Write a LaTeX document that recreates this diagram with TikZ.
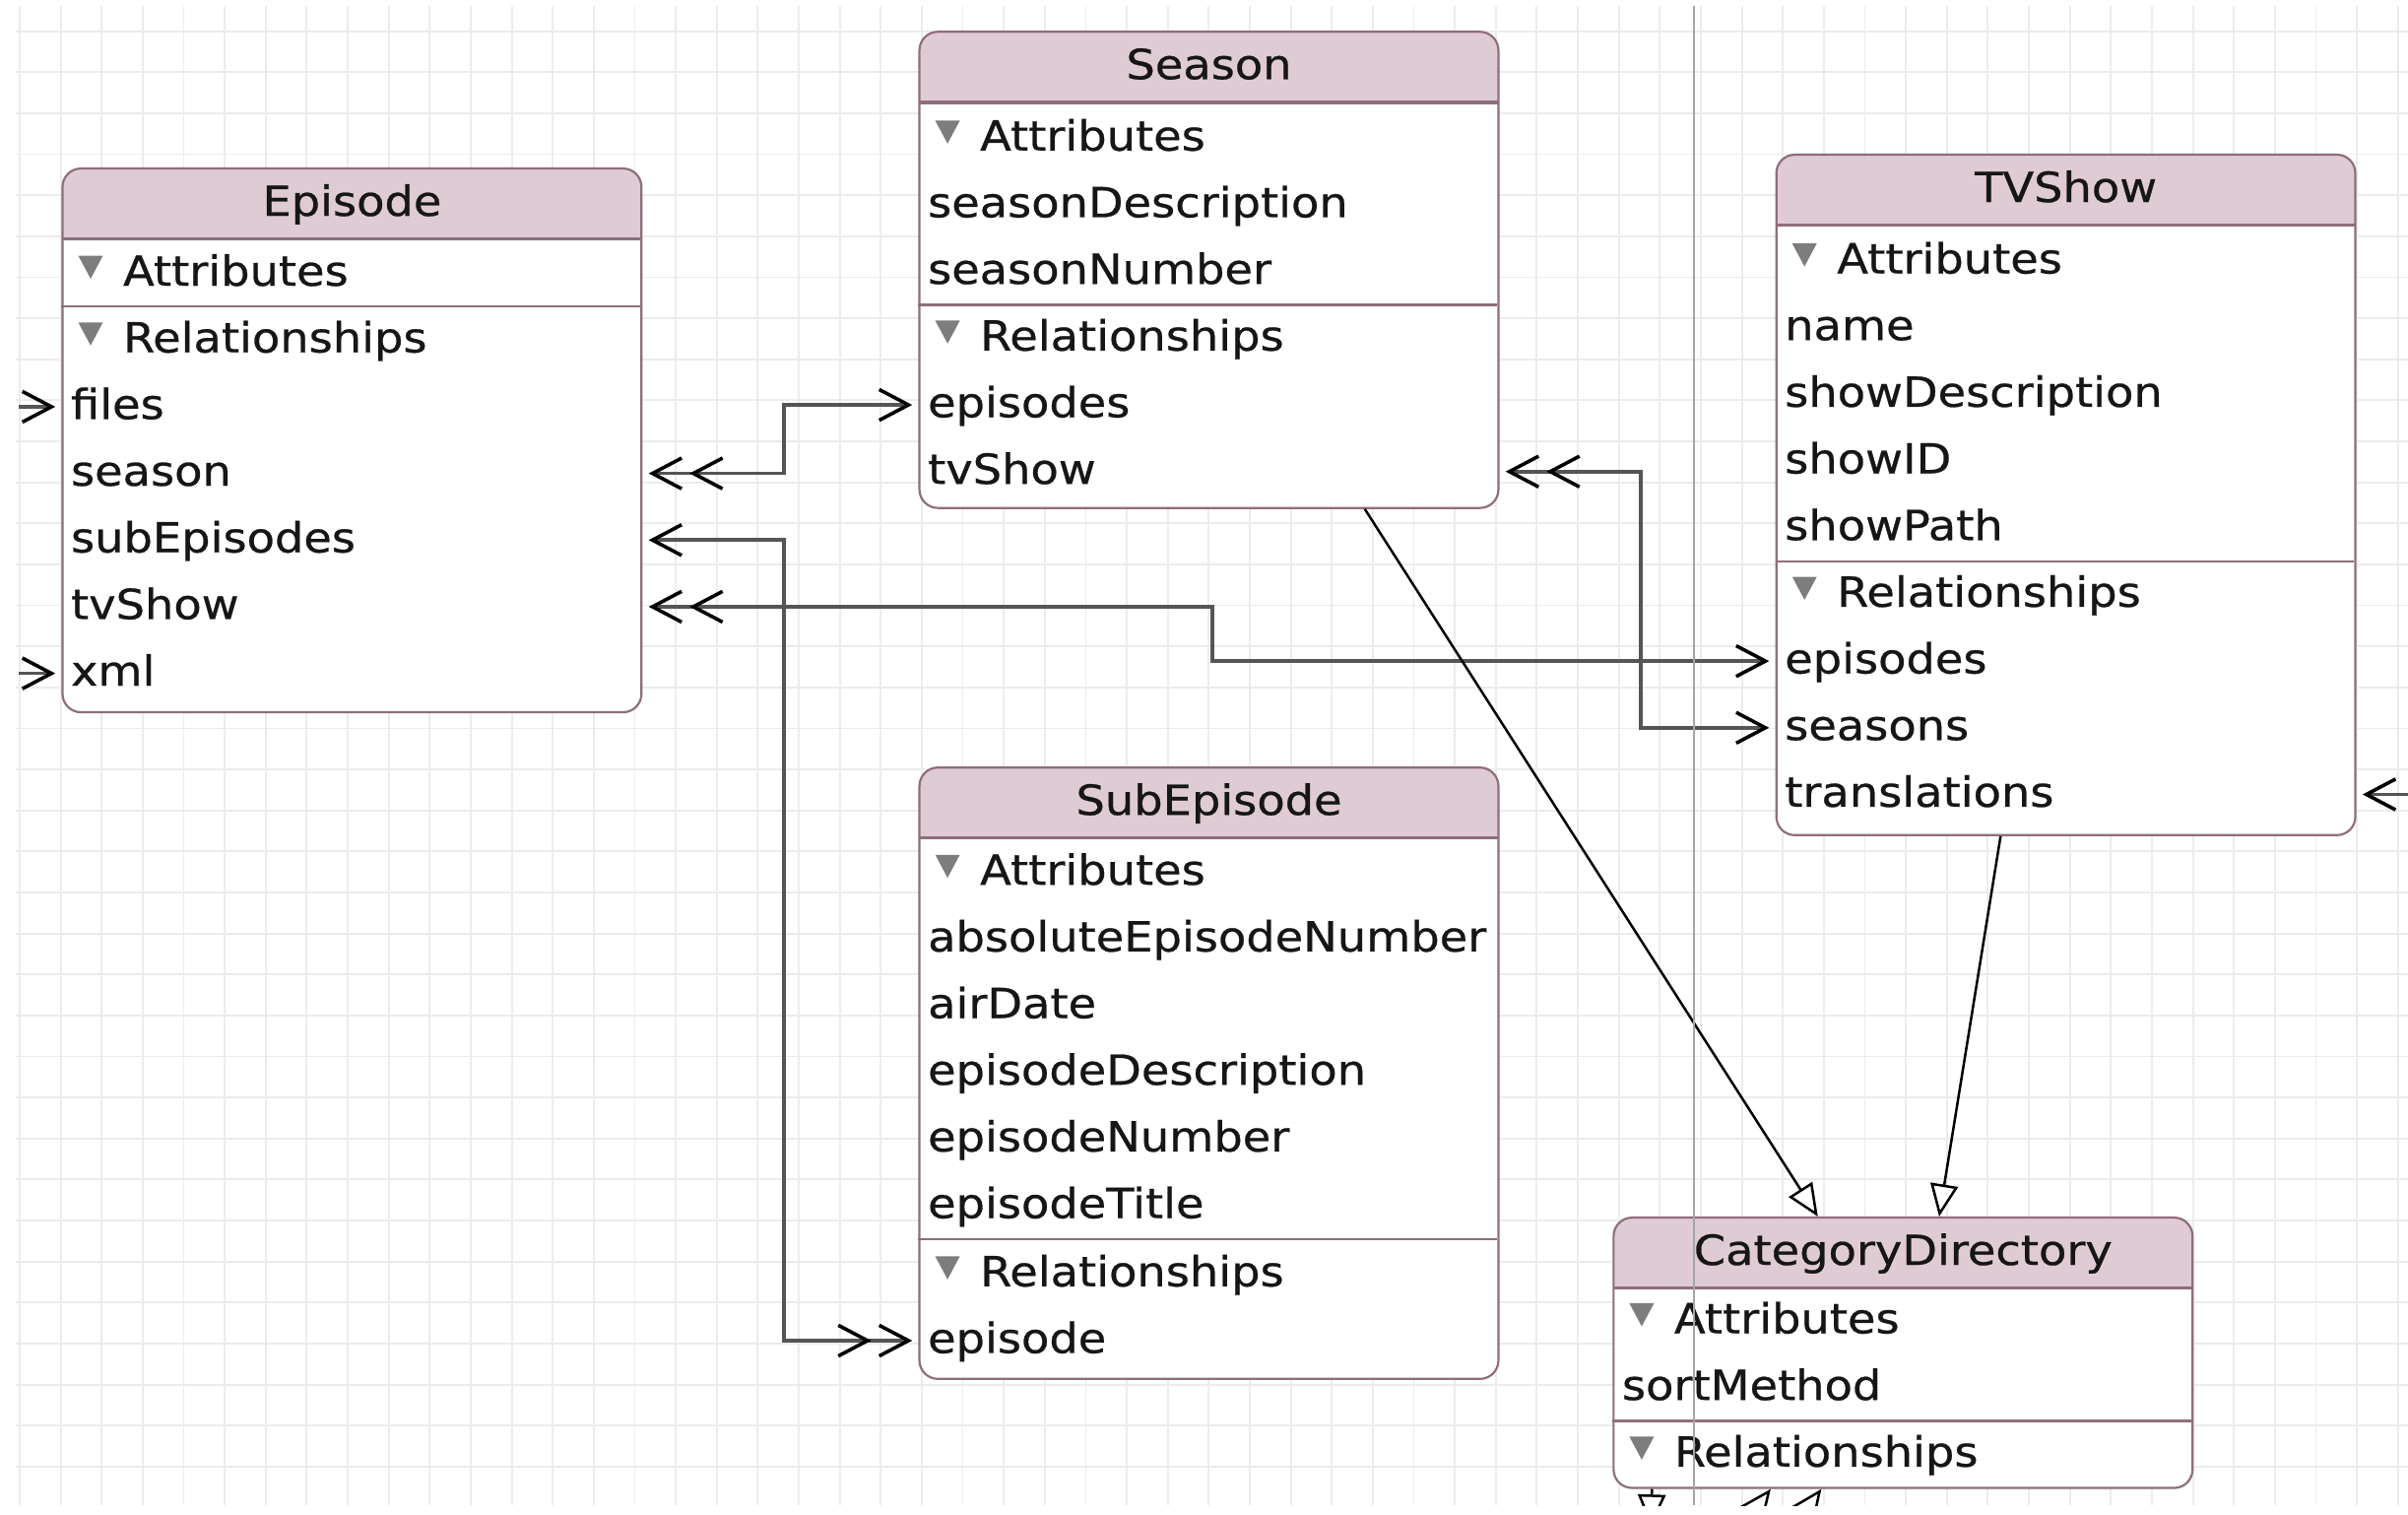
\documentclass[tikz,border=0pt]{standalone}
\usepackage{fontspec}
\setmainfont{DejaVu Sans}[FakeStretch=1.1, FakeBold=0.6]
\usetikzlibrary{arrows.meta,positioning}
\definecolor{headfill}{RGB}{223,203,211}
\definecolor{boxline}{RGB}{142,110,124}
\definecolor{gridline}{RGB}{236,236,236}
\definecolor{pageline}{RGB}{165,165,165}
\definecolor{ink}{RGB}{22,22,22}
\definecolor{twistycol}{RGB}{125,125,125}
\definecolor{relline}{RGB}{85,85,85}
\begin{document}
\begin{tikzpicture}[x=1pt, y=-1pt,
	font=\fontsize{27}{32}\selectfont,
	entity/.style={draw=boxline, line width=1.4pt, fill=white, rounded corners=12pt,
		minimum width=377pt, inner sep=0pt, anchor=north west,
		path picture={
			\fill[headfill, sharp corners] (path picture bounding box.north west) rectangle ([yshift=-46pt]path picture bounding box.north east);
			\draw[boxline, line width=2pt, sharp corners] ([yshift=-46pt]path picture bounding box.north west) -- ([yshift=-46pt]path picture bounding box.north east);}},
	row/.style={anchor=west, inner sep=0pt, text height=21pt, text depth=5pt, text=ink},
	title/.style={row, anchor=center},
	section/.style={row},
	divider/.style={draw=boxline, line width=1.4pt},
	twisty/.style={fill=twistycol},
	rel/.style={draw=relline, line width=2.4pt,
		>={Straight Barb[length=19pt, width=20pt, line width=2.3pt, color=black, sep=4pt]}},
	isa/.style={draw=black, line width=1.6pt, -{Triangle[length=21pt, width=18pt, fill=white]}},
	gridrule/.style={draw=gridline, line width=1.2pt}
	]
	\useasboundingbox[fill=white] (0,0) rectangle (1568,986);

	% background grid
	\foreach \i in {0,...,58}
		\draw[gridrule] (12.8+26.7*\i,4) -- (12.8+26.7*\i,980);
	\foreach \j in {0,...,35}
		\draw[gridrule] (10,20.3+26.7*\j) -- (1568,20.3+26.7*\j);

	% Episode
	\node (Episode) at (40,109) [entity, minimum height=354pt] {};
	\node (Episode-title) at ([yshift=-23.5pt]Episode.north) [title] {Episode};
	\node (Episode-attr) at (80,178) [section] {Attributes};
	\draw[divider] (Episode.west |- Episode-attr) ++(0,21.7) -- ++(377,0);
	\node (Episode-rel) at (80,221.4) [section] {Relationships};
	\foreach \name [count=\i] in {files,season,subEpisodes,tvShow,xml}
		\node (Episode-\name) at (46,221.4+43.4*\i) [row] {\name};
	\fill[twisty] (Episode-attr.west) ++(-29,-11.5) -- ++(16,0) -- ++(-8,15) -- cycle;
	\fill[twisty] (Episode-rel.west) ++(-29,-11.5) -- ++(16,0) -- ++(-8,15) -- cycle;

	% Season
	\node (Season) at (598,20) [entity, minimum height=310pt] {};
	\node (Season-title) at ([yshift=-23.5pt]Season.north) [title] {Season};
	\node (Season-attr) at (638,90) [section] {Attributes};
	\foreach \name [count=\i] in {seasonDescription,seasonNumber}
		\node (Season-\name) at (604,90+43.4*\i) [row] {\name};
	\draw[divider] (Season.west |- Season-seasonNumber) ++(0,21.7) -- ++(377,0);
	\node (Season-rel) at (638,220.2) [section] {Relationships};
	\foreach \name [count=\i] in {episodes,tvShow}
		\node (Season-\name) at (604,220.2+43.4*\i) [row] {\name};
	\fill[twisty] (Season-attr.west) ++(-29,-11.5) -- ++(16,0) -- ++(-8,15) -- cycle;
	\fill[twisty] (Season-rel.west) ++(-29,-11.5) -- ++(16,0) -- ++(-8,15) -- cycle;

	% TVShow
	\node (TVShow) at (1156,100) [entity, minimum height=443pt] {};
	\node (TVShow-title) at ([yshift=-23.5pt]TVShow.north) [title] {TVShow};
	\node (TVShow-attr) at (1196,170) [section] {Attributes};
	\foreach \name [count=\i] in {name,showDescription,showID,showPath}
		\node (TVShow-\name) at (1162,170+43.4*\i) [row] {\name};
	\draw[divider] (TVShow.west |- TVShow-showPath) ++(0,21.7) -- ++(377,0);
	\node (TVShow-rel) at (1196,387) [section] {Relationships};
	\foreach \name [count=\i] in {episodes,seasons,translations}
		\node (TVShow-\name) at (1162,387+43.4*\i) [row] {\name};
	\fill[twisty] (TVShow-attr.west) ++(-29,-11.5) -- ++(16,0) -- ++(-8,15) -- cycle;
	\fill[twisty] (TVShow-rel.west) ++(-29,-11.5) -- ++(16,0) -- ++(-8,15) -- cycle;

	% SubEpisode
	\node (SubEpisode) at (598,499) [entity, minimum height=398pt] {};
	\node (SubEpisode-title) at ([yshift=-23.5pt]SubEpisode.north) [title] {SubEpisode};
	\node (SubEpisode-attr) at (638,568) [section] {Attributes};
	\foreach \name [count=\i] in {absoluteEpisodeNumber,airDate,episodeDescription,episodeNumber,episodeTitle}
		\node (SubEpisode-\name) at (604,568+43.4*\i) [row] {\name};
	\draw[divider] (SubEpisode.west |- SubEpisode-episodeTitle) ++(0,21.7) -- ++(377,0);
	\node (SubEpisode-rel) at (638,829.4) [section] {Relationships};
	\node (SubEpisode-episode) at (604,872.8) [row] {episode};
	\fill[twisty] (SubEpisode-attr.west) ++(-29,-11.5) -- ++(16,0) -- ++(-8,15) -- cycle;
	\fill[twisty] (SubEpisode-rel.west) ++(-29,-11.5) -- ++(16,0) -- ++(-8,15) -- cycle;

	% CategoryDirectory
	\node (CategoryDirectory) at (1050,792) [entity, minimum height=176pt] {};
	\node (CategoryDirectory-title) at ([yshift=-23.5pt]CategoryDirectory.north) [title] {CategoryDirectory};
	\node (CategoryDirectory-attr) at (1090,860) [section] {Attributes};
	\node (CategoryDirectory-sortMethod) at (1056,903.4) [row] {sortMethod};
	\draw[divider] (CategoryDirectory.west |- CategoryDirectory-sortMethod) ++(0,21.7) -- ++(377,0);
	\node (CategoryDirectory-rel) at (1090,946.8) [section] {Relationships};
	\fill[twisty] (CategoryDirectory-attr.west) ++(-29,-11.5) -- ++(16,0) -- ++(-8,15) -- cycle;
	\fill[twisty] (CategoryDirectory-rel.west) ++(-29,-11.5) -- ++(16,0) -- ++(-8,15) -- cycle;

	% relationships
	\draw[rel, <<->] (Episode.east |- Episode-season) -- ++(92,0) |- (Season.west |- Season-episodes);
	\draw[rel, <->>] (Episode.east |- Episode-subEpisodes) -- ++(92,0) |- (SubEpisode.west |- SubEpisode-episode);
	\draw[rel, <<->] (Episode.east |- Episode-tvShow) -- ++(371,0) |- (TVShow.west |- TVShow-episodes);
	\draw[rel, <<->] (Season.east |- Season-tvShow) -- ++(92,0) |- (TVShow.west |- TVShow-seasons);
	\coordinate (files-src) at (12,0 |- Episode-files);
	\coordinate (xml-src) at (12,0 |- Episode-xml);
	\coordinate (translations-src) at (1568,0 |- TVShow-translations);
	\draw[rel, ->] (files-src) -- (Episode.west |- Episode-files);
	\draw[rel, ->] (xml-src) -- (Episode.west |- Episode-xml);
	\draw[rel, ->] (translations-src) -- (TVShow.east |- TVShow-translations);

	% parent entity
	\draw[isa] ([xshift=101.5pt]Season.south) -- ([xshift=-55.5pt]CategoryDirectory.north);
	\draw[isa] ([xshift=-42.5pt]TVShow.south) -- ([xshift=23.5pt]CategoryDirectory.north);
	\begin{scope}
		\clip (0,0) rectangle (1568,980);
		\coordinate (child-a) at (1075,994);
		\coordinate (child-b) at (1124,1008);
		\coordinate (child-c) at (1158,1008);
		\draw[isa] ([xshift=-163.5pt]CategoryDirectory.south) -- (child-a);
		\draw[isa] (child-b) -- (CategoryDirectory.south -| 1153,0);
		\draw[isa] (child-c) -- (CategoryDirectory.south -| 1186,0);
	\end{scope}

	% page break
	\draw[pageline, line width=1pt] (1103,4) -- (1103,980);
\end{tikzpicture}
\end{document}
